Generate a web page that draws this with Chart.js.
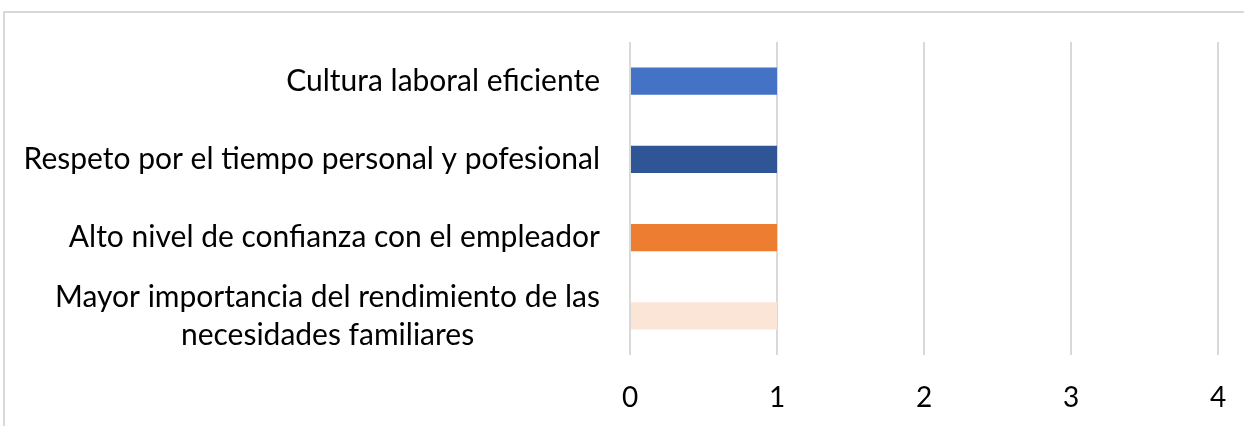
<!DOCTYPE html>
<html>
<head>
<meta charset="utf-8">
<script src="https://cdn.jsdelivr.net/npm/chart.js@4"></script>
<style>
  body { margin: 0; background: #fff; }
  #frame { position: absolute; left: 3px; top: 11px; width: 1241px; height: 420px;
           border-top: 2px solid #d9d9d9; border-left: 2px solid #d9d9d9; }
  #wrap { position: absolute; left: 0; top: 0; width: 1244px; height: 426px; }
</style>
</head>
<body>
<div id="frame"></div>
<div id="wrap"><canvas id="chart"></canvas></div>
<script>
var categories = [
    "Cultura laboral eficiente",
    "Respeto por el tiempo personal y pofesional",
    "Alto nivel de confianza con el empleador",
    ["Mayor importancia del rendimiento de las", "necesidades familiares"]
];
var values = [1, 1, 1, 1];
var barColors = ["#4472C4", "#2F5597", "#ED7D31", "#FBE5D6"];
var xTicks = [0, 1, 2, 3, 4];

var FONT = "Lato, 'Open Sans', sans-serif";

// draw category labels ourselves so wrapped lines are centred on each other
var catLabels = {
    id: 'catLabels',
    afterDraw: function (chart) {
        var ctx = chart.ctx;
        var y = chart.scales.y;
        var right = 600;
        ctx.save();
        ctx.font = "30px " + FONT;
        ctx.fillStyle = "#000";
        ctx.textBaseline = "middle";
        ctx.textAlign = "center";
        categories.forEach(function (lab, i) {
            var lines = Array.isArray(lab) ? lab : [lab];
            var w = 0;
            lines.forEach(function (l) { w = Math.max(w, ctx.measureText(l).width); });
            var cx = right - w / 2;
            var cy = y.getPixelForValue(i);
            var lh = 38;
            lines.forEach(function (l, j) {
                ctx.fillText(l, cx, cy + (j - (lines.length - 1) / 2) * lh);
            });
        });
        ctx.restore();
    }
};

new Chart(document.getElementById("chart"), {
    type: 'bar',
    data: {
        labels: categories,
        datasets: [{
            data: values,
            backgroundColor: barColors,
            barPercentage: 0.35,
            categoryPercentage: 1
        }]
    },
    options: {
        indexAxis: 'y',
        responsive: true,
        maintainAspectRatio: false,
        animation: false,
        layout: { padding: { top: 42, right: 26, left: 0, bottom: 0 } },
        plugins: { legend: { display: false }, tooltip: { enabled: false } },
        scales: {
            x: {
                min: 0, max: 4,
                afterBuildTicks: function (s) { s.ticks = xTicks.map(function (v) { return { value: v }; }); },
                afterFit: function (s) { s.height = 71; s.paddingLeft = 0; s.paddingRight = 0; },
                grid: { color: "#d9d9d9", lineWidth: 2, drawTicks: false },
                border: { display: false },
                ticks: { color: "#000", font: { family: FONT, size: 28 }, padding: 26 }
            },
            y: {
                afterFit: function (s) { s.width = 630; },
                grid: { display: false },
                border: { display: false },
                ticks: { display: false }
            }
        }
    },
    plugins: [catLabels]
});
</script>
</body>
</html>
